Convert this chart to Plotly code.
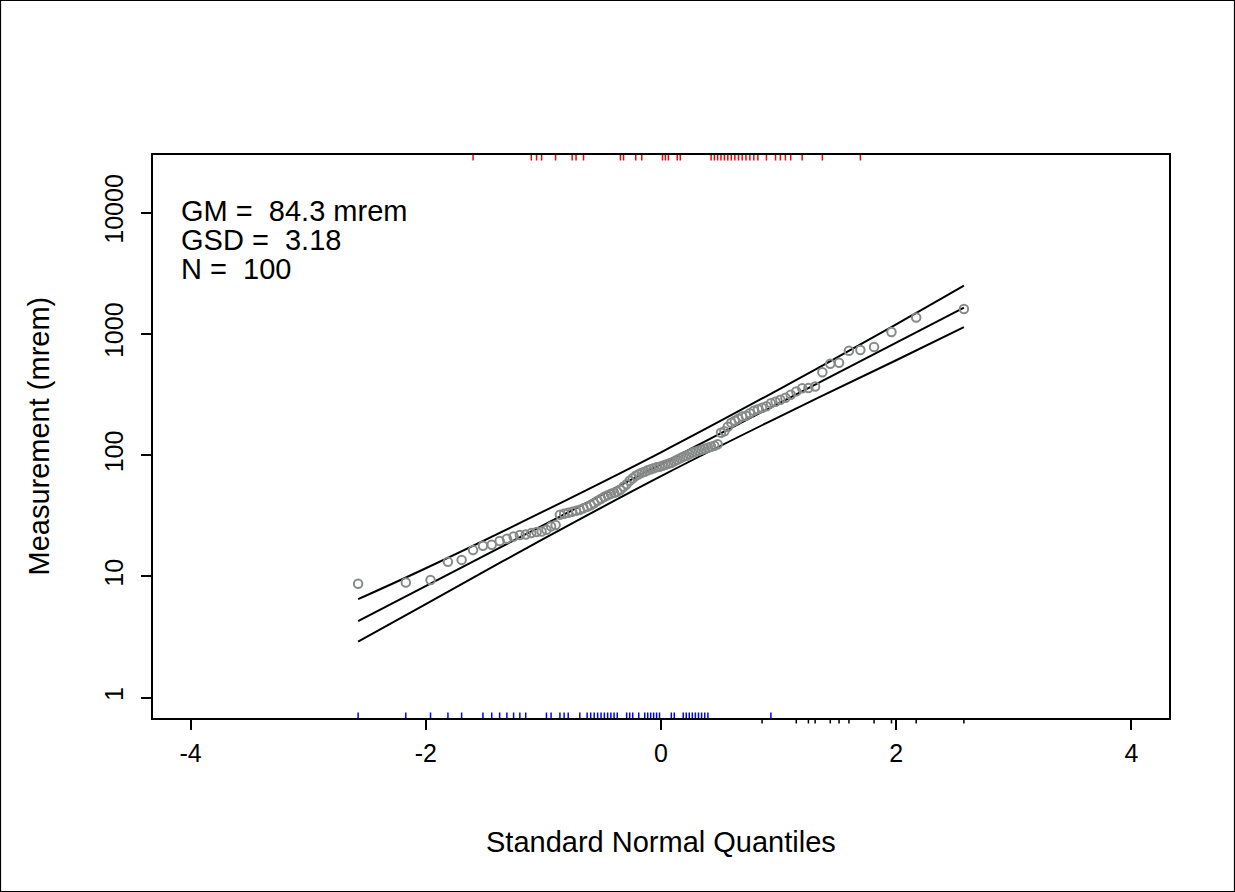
import plotly.graph_objects as go

# ---------------- data ----------------
# theoretical standard normal quantiles (x of each point)
Z = [-2.5758, -2.1701, -1.9600, -1.8119, -1.6954, -1.5982, -1.5141, -1.4395, -1.3722, -1.3106,
     -1.2536, -1.2004, -1.1503, -1.1031, -1.0581, -1.0152, -0.9741, -0.9346, -0.8965, -0.8596,
     -0.8239, -0.7892, -0.7554, -0.7225, -0.6903, -0.6588, -0.6280, -0.5978, -0.5681, -0.5388,
     -0.5101, -0.4817, -0.4538, -0.4261, -0.3989, -0.3719, -0.3451, -0.3186, -0.2924, -0.2663,
     -0.2404, -0.2147, -0.1891, -0.1637, -0.1383, -0.1130, -0.0878, -0.0627, -0.0376, -0.0125,
     0.0125, 0.0376, 0.0627, 0.0878, 0.1130, 0.1383, 0.1637, 0.1891, 0.2147, 0.2404,
     0.2663, 0.2924, 0.3186, 0.3451, 0.3719, 0.3989, 0.4261, 0.4538, 0.4817, 0.5101,
     0.5388, 0.5681, 0.5978, 0.6280, 0.6588, 0.6903, 0.7225, 0.7554, 0.7892, 0.8239,
     0.8596, 0.8965, 0.9346, 0.9741, 1.0152, 1.0581, 1.1031, 1.1503, 1.2004, 1.2536,
     1.3106, 1.3722, 1.4395, 1.5141, 1.5982, 1.6954, 1.8119, 1.9600, 2.1701, 2.5758]

# sorted measurements (mrem)
MEASUREMENT = [8.71, 8.93, 9.35, 13.2, 13.7, 16.5, 17.9, 18.3, 19.6, 20.5,
               21.4, 22.0, 22.2, 22.8, 23.3, 23.5, 24.3, 25.9, 26.6, 32.3,
               32.9, 33.6, 34.2, 34.9, 35.5, 36.6, 37.6, 38.7, 40.2, 42.1,
               43.8, 45.5, 46.8, 48.1, 49.1, 50.0, 51.9, 55.0, 57.7, 61.6,
               64.6, 67.8, 69.7, 71.7, 73.1, 75.2, 76.7, 78.1, 79.6, 80.4,
               81.9, 83.5, 85.1, 86.7, 89.2, 91.8, 94.5, 97.2, 99.1, 101.9,
               104.9, 106.9, 108.9, 111.0, 113.1, 115.3, 117.5, 119.8, 123.2, 153.3,
               157.7, 171.8, 185.4, 192.6, 200.0, 208.9, 211.8, 222.1, 232.8, 239.5,
               246.5, 253.6, 268.5, 276.3, 286.9, 298.0, 315.5, 336.0, 357.0, 358.4,
               369.4, 483.6, 568.5, 579.4, 727.7, 737.4, 780.6, 1038.0, 1369.0, 1606.0]

# rug group of each point (1 = top rug, 2 = bottom rug inside, 3 = bottom rug outside)
RUG_GROUP = [2, 2, 2, 2, 2, 1, 2, 2, 2, 2,
             2, 2, 2, 1, 1, 1, 2, 2, 1, 2,
             2, 2, 1, 1, 2, 1, 2, 2, 2, 2,
             2, 2, 2, 2, 2, 2, 1, 1, 2, 2,
             2, 1, 2, 1, 2, 2, 2, 2, 2, 2,
             1, 1, 1, 2, 2, 1, 1, 2, 2, 2,
             2, 2, 2, 2, 2, 2, 1, 1, 1, 1,
             1, 1, 1, 1, 1, 1, 1, 1, 1, 1,
             3, 1, 2, 1, 1, 1, 1, 3, 1, 3,
             3, 1, 3, 3, 3, 1, 3, 3, 3, 3]

# fitted line and confidence band
FIT_Z = [-2.576, 2.576]
FIT_Y = [4.29, 1652]
BAND_Z = [-2.576, -2.0, -1.0, 0.0, 1.0, 2.0, 2.576]
BAND_UPPER = [6.5, 11.7, 34.4, 105.7, 348, 1200, 2500]
BAND_LOWER = [2.9, 5.93, 20.4, 67.2, 206.5, 607, 1140]

X_TICKS = [-4, -2, 0, 2, 4]
Y_TICKS = [1, 10, 100, 1000, 10000]
Y_TICK_LABELS = ["1", "10", "100", "1000", "10000"]

STATS_TEXT = ["GM =  84.3 mrem", "GSD =  3.18", "N =  100"]
X_TITLE = "Standard Normal Quantiles"
Y_TITLE = "Measurement (mrem)"

# ---------------- figure ----------------
FONT = "Liberation Sans, Arial, sans-serif"
POINT_GREY = "#868b89"
fig = go.Figure()

line_style = dict(color="black", width=2)
fig.add_trace(go.Scatter(x=BAND_Z, y=BAND_UPPER, mode="lines", line=line_style,
                         line_shape="spline", hoverinfo="skip"))
fig.add_trace(go.Scatter(x=FIT_Z, y=FIT_Y, mode="lines", line=line_style, hoverinfo="skip"))
fig.add_trace(go.Scatter(x=BAND_Z, y=BAND_LOWER, mode="lines", line=line_style,
                         line_shape="spline", hoverinfo="skip"))
fig.add_trace(go.Scatter(x=Z, y=MEASUREMENT, mode="markers",
                         marker=dict(symbol="circle-open", size=8.5, color=POINT_GREY,
                                     line=dict(color=POINT_GREY, width=2)),
                         cliponaxis=False))

# rugs
rug_len = 5.5 / 563
rug_styles = {
    1: dict(color="#ff0000", y0=1.0, y1=1.0 - rug_len),
    2: dict(color="#0000ff", y0=0.0, y1=rug_len),
    3: dict(color="#000000", y0=0.0, y1=-rug_len),
}
shapes = []
for z, g in zip(Z, RUG_GROUP):
    st = rug_styles[g]
    shapes.append(dict(type="line", xref="x", yref="paper", x0=z, x1=z,
                       y0=st["y0"], y1=st["y1"],
                       line=dict(color=st["color"], width=1.5), layer="above"))

# outer frame of the whole image
L, R, T, B = 153, 66, 155, 174
W, H = 1235, 892
pw, ph = W - L - R, H - T - B
shapes.append(dict(type="rect", xref="paper", yref="paper",
                   x0=(0.5 - L) / pw, x1=(W - 0.5 - L) / pw,
                   y0=-(B - 0.5) / ph, y1=1 + (T - 0.5) / ph,
                   line=dict(color="black", width=1.2), fillcolor="rgba(0,0,0,0)"))

annotations = []
for k, t in enumerate(STATS_TEXT):
    annotations.append(dict(text=t, xref="paper", yref="paper",
                            x=(179 - L) / pw, y=(718 - (211 + 29 * k)) / ph,
                            xanchor="left", yanchor="middle", showarrow=False,
                            font=dict(family=FONT, size=29, color="black")))
annotations.append(dict(text=X_TITLE, xref="paper", yref="paper", x=0.5,
                        y=(718 - 842) / ph, xanchor="center", yanchor="middle",
                        showarrow=False, font=dict(family=FONT, size=29, color="black")))
annotations.append(dict(text=Y_TITLE, xref="paper", yref="paper", x=(38 - L) / pw,
                        y=0.5, xanchor="center", yanchor="middle", textangle=-90,
                        showarrow=False, font=dict(family=FONT, size=29, color="black")))

fig.update_layout(
    width=W, height=H,
    margin=dict(l=L, r=R, t=T, b=B),
    paper_bgcolor="white", plot_bgcolor="white",
    showlegend=False,
    shapes=shapes, annotations=annotations,
    font=dict(family=FONT, size=24, color="black"),
    xaxis=dict(range=[-4.32, 4.32], tickmode="array", tickvals=X_TICKS,
               ticktext=[str(v) for v in X_TICKS],
               showgrid=False, zeroline=False, showline=True, mirror=True,
               linecolor="black", linewidth=1.5, ticks="outside", ticklen=10,
               tickwidth=1.5, tickcolor="black", ticklabelstandoff=2,
               tickfont=dict(family=FONT, size=25, color="black")),
    yaxis=dict(type="log", range=[-0.167, 4.476], tickmode="array", tickvals=Y_TICKS,
               ticktext=Y_TICK_LABELS, tickangle=-90,
               showgrid=False, zeroline=False, showline=True, mirror=True,
               linecolor="black", linewidth=1.5, ticks="outside", ticklen=10,
               tickwidth=1.5, tickcolor="black", ticklabelstandoff=8,
               tickfont=dict(family=FONT, size=25, color="black")),
)

fig.write_html("out.html", config={"displayModeBar": False},
               post_script="document.body.style.margin='0';document.body.style.overflow='hidden';")
